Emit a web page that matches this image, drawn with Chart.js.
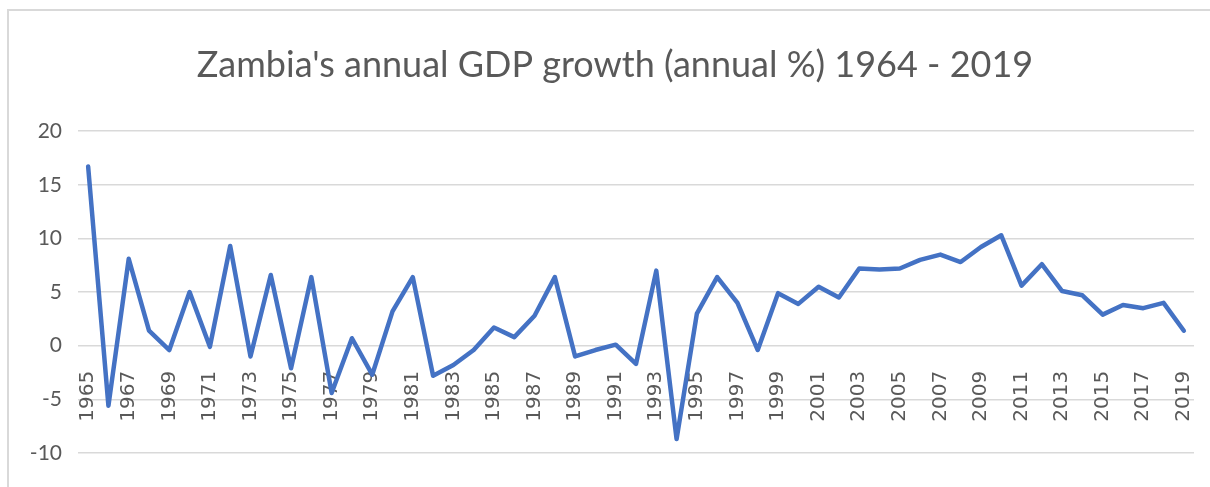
<!DOCTYPE html>
<html>
<head>
<meta charset="utf-8">
<script src="https://cdn.jsdelivr.net/npm/chart.js@4/dist/chart.umd.min.js"></script>
<style>
  html, body { margin: 0; padding: 0; background: #ffffff; width: 1210px; height: 487px; overflow: hidden; }
  #frame { position: absolute; left: 7px; top: 9px; width: 1203px; height: 478px;
           border-left: 2px solid #d9d9d9; border-top: 2px solid #d9d9d9; box-sizing: border-box; }
  canvas { display: block; }
</style>
</head>
<body>
<div id="frame"><canvas id="c" width="1201" height="476"></canvas></div>
<script>
const titleText = "Zambia's annual GDP growth (annual %) 1964 - 2019";
const years = [1965,1966,1967,1968,1969,1970,1971,1972,1973,1974,1975,1976,1977,1978,1979,
  1980,1981,1982,1983,1984,1985,1986,1987,1988,1989,1990,1991,1992,1993,1994,1995,1996,1997,
  1998,1999,2000,2001,2002,2003,2004,2005,2006,2007,2008,2009,2010,2011,2012,2013,2014,2015,
  2016,2017,2018,2019];
const gdpGrowth = [16.7,-5.6,8.1,1.4,-0.4,5.0,-0.1,9.3,-1.0,6.6,-2.1,6.4,-4.4,0.7,-2.7,
  3.2,6.4,-2.8,-1.8,-0.4,1.7,0.8,2.8,6.4,-1.0,-0.4,0.1,-1.7,7.0,-8.7,3.0,6.4,4.0,
  -0.4,4.9,3.9,5.5,4.5,7.2,7.1,7.2,8.0,8.5,7.8,9.2,10.3,5.6,7.6,5.1,4.7,2.9,
  3.8,3.5,4.0,1.4];
const yMin = -10, yMax = 20, yStep = 5;

const textColor = '#595959';
const gridColor = '#d9d9d9';
const fontFamily = 'Lato, "Open Sans", sans-serif';

// nudges the title's box so that its centre sits where the reference has it
const titleShift = {
  id: 'titleShift',
  afterLayout(chart) {
    const t = chart.titleBlock;
    if (t) { t.left += 18; }
  }
};

new Chart(document.getElementById('c'), {
  type: 'line',
  data: {
    labels: years.map(String),
    datasets: [{
      data: gdpGrowth,
      borderColor: '#4472C4',
      borderWidth: 4.5,
      pointRadius: 0,
      tension: 0,
      fill: false,
      borderJoinStyle: 'round',
      borderCapStyle: 'round'
    }]
  },
  plugins: [titleShift],
  options: {
    responsive: false,
    animation: false,
    devicePixelRatio: 1,
    layout: { padding: { left: 9, right: 16, top: 0, bottom: 34 } },
    plugins: {
      legend: { display: false },
      tooltip: { enabled: false },
      title: {
        display: true,
        text: titleText,
        color: textColor,
        font: { family: fontFamily, size: 36, weight: 'normal' },
        padding: { top: 33, bottom: 44 }
      }
    },
    scales: {
      y: {
        min: yMin, max: yMax,
        ticks: { stepSize: yStep, color: textColor, padding: 16,
                 font: { family: fontFamily, size: 21 } },
        grid: { color: gridColor, lineWidth: 1.5, drawTicks: false },
        border: { display: false },
        afterFit: (s) => { s.width = 60; }
      },
      x: {
        position: { y: 0 },
        offset: true,
        grid: { display: false, drawTicks: false },
        border: { display: false },
        afterFit: (s) => { s.paddingLeft = 0; s.paddingRight = 0; s.paddingTop = 0; s.paddingBottom = 0; },
        ticks: {
          autoSkip: false,
          minRotation: 90, maxRotation: 90,
          padding: 25,
          color: textColor,
          font: { family: '"DejaVu Sans", sans-serif', size: 20 },
          callback: function(v, i) { return i % 2 === 0 ? this.getLabelForValue(v) : ''; }
        }
      }
    }
  }
});
</script>
</body>
</html>
